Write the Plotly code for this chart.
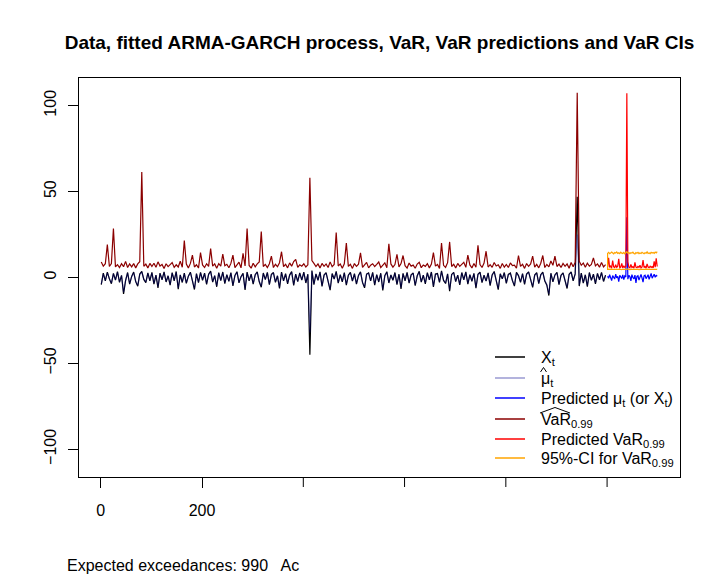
import plotly.graph_objects as go

# ---------------- data ----------------
# historical series, sampled every 4th time step starting at t = 1
X_t = [
    -4.2, 2.6, -2.0, 3.1, -0.8, -3.6, 2.4, -1.5, 3.4, -2.8, 1.2, -9.5, -1.8, 2.9, -3.9, 0.6, 3.2, -2.4, -5.1, 2.0, 3.6, -1.1, -3.0, 2.7, -1.9,
    3.0, -3.8, 1.4, -6.0, 2.5, -1.3, 3.3, -2.6, 1.0, -4.5, 2.8, -1.9, 3.5, -6.8, 1.5, -2.9, 2.6, -3.4, 0.8, 3.1, -2.2, -7.0, 2.3, -3.0, 3.0,
    -1.6, 2.5, -4.0, 1.9, 3.7, -2.7, 1.1, -5.4, 2.8, -1.8, 3.2, -3.6, 1.7, -2.3, 2.9, -4.9, 1.2, 3.4, -3.1, 0.5, 2.4, -7.2, 3.1, -1.9, 2.0,
    -3.8, 1.6, 3.3, -2.5, -5.7, 2.6, -1.2, 3.0, -4.2, 1.8, 2.9, -2.8, 1.0, -6.3, 3.1, -2.0, 2.2, -3.7, 1.4, 3.4, -4.6, 2.0, -2.4, 2.7, -1.5,
    3.1, -3.2, 1.9, -45.0, 4.0, -4.1, 2.1, -1.7, 3.3, -5.2, 1.4, 2.8, -2.7, -7.4, 2.3, -0.9, 3.6, -3.3, 1.6, -2.5, 2.9, -4.4, 1.3, 3.0, -2.1,
    2.2, -3.9, 1.2, 3.3, -3.0, -6.0, 2.0, 2.7, -2.0, 3.0, -4.4, 1.7, -2.6, 2.5, -7.5, 1.1, 3.4, -3.2, 1.5, -1.6, 2.9, -4.1, 1.9, -6.6, 2.4,
    -1.9, 3.0, -3.3, 1.6, 2.6, -4.8, 1.0, 3.6, -2.7, 1.4, -3.7, 2.8, -1.4, 3.2, -5.5, 2.0, 2.3, -2.9, 3.8, -1.7, -3.5, 2.1, -7.9, 1.8, 3.0,
    -2.4, 1.4, -4.3, 2.9, -1.3, 3.3, -3.8, 1.7, -2.2, 2.4, -6.2, 1.9, 3.1, -3.0, 1.3, -2.1, 2.7, -4.7, 1.5, 3.5, -2.6, -7.1, 2.2, -0.8, 2.9,
    -3.4, 1.8, 2.6, -1.8, -5.0, 3.0, 1.1, -2.8, 2.3, -4.0, 2.0, 3.3, -2.2, -5.8, 1.4, 2.8, -3.6, 1.6, 3.1, -2.0, -4.5, -10.5, 2.5, -2.5, 1.5,
    3.0, -4.2, 1.3, 2.7, -2.7, -6.4, 1.9, 3.2, -1.9, 2.1, 47.0, -5.0, 2.6, -3.3, 1.6, -5.3, 2.9, -1.7, 2.0, -3.7, 2.4, -1.3, 3.0, -2.3, 1.4,
]

mu_hat = [
    -3.8, 2.3, -1.8, 2.8, -0.7, -3.2, 2.2, -1.4, 3.1, -2.5, 1.1, -8.6, -1.6, 2.6, -3.5, 0.5, 2.9, -2.2, -4.6, 1.8, 3.2, -1.0, -2.7, 2.4, -1.7,
    2.7, -3.4, 1.3, -5.4, 2.2, -1.2, 3.0, -2.3, 0.9, -4.0, 2.5, -1.7, 3.1, -6.1, 1.4, -2.6, 2.3, -3.1, 0.7, 2.8, -2.0, -6.3, 2.1, -2.7, 2.7,
    -1.4, 2.2, -3.6, 1.7, 3.3, -2.4, 1.0, -4.9, 2.5, -1.6, 2.9, -3.2, 1.5, -2.1, 2.6, -4.4, 1.1, 3.1, -2.8, 0.4, 2.2, -6.5, 2.8, -1.7, 1.8,
    -3.4, 1.4, 3.0, -2.2, -5.1, 2.3, -1.1, 2.7, -3.8, 1.6, 2.6, -2.5, 0.9, -5.7, 2.8, -1.8, 2.0, -3.3, 1.3, 3.1, -4.1, 1.8, -2.2, 2.4, -1.4,
    2.8, -2.9, 1.7, -32.0, 3.6, -3.7, 1.9, -1.5, 3.0, -4.7, 1.3, 2.5, -2.4, -6.7, 2.1, -0.8, 3.2, -3.0, 1.4, -2.2, 2.6, -4.0, 1.2, 2.7, -1.9,
    2.0, -3.5, 1.1, 3.0, -2.7, -5.4, 1.8, 2.4, -1.8, 2.7, -4.0, 1.5, -2.3, 2.2, -6.8, 1.0, 3.1, -2.9, 1.4, -1.4, 2.6, -3.7, 1.7, -5.9, 2.2,
    -1.7, 2.7, -3.0, 1.4, 2.3, -4.3, 0.9, 3.2, -2.4, 1.3, -3.3, 2.5, -1.3, 2.9, -5.0, 1.8, 2.1, -2.6, 3.4, -1.5, -3.2, 1.9, -7.1, 1.6, 2.7,
    -2.2, 1.3, -3.9, 2.6, -1.2, 3.0, -3.4, 1.5, -2.0, 2.2, -5.6, 1.7, 2.8, -2.7, 1.2, -1.9, 2.4, -4.2, 1.4, 3.2, -2.3, -6.4, 2.0, -0.7, 2.6,
    -3.1, 1.6, 2.3, -1.6, -4.5, 2.7, 1.0, -2.5, 2.1, -3.6, 1.8, 3.0, -2.0, -5.2, 1.3, 2.5, -3.2, 1.4, 2.8, -1.8, -4.1, -9.5, 2.3, -2.3, 1.4,
    2.7, -3.8, 1.2, 2.4, -2.4, -5.8, 1.7, 2.9, -1.7, 1.9, 25.0, -4.5, 2.3, -3.0, 1.4, -4.8, 2.6, -1.5, 1.8, -3.3, 2.2, -1.2, 2.7, -2.1, 1.3,
]

VaR_hat = [
    9.0, 6.6, 8.0, 19.2, 6.4, 8.1, 28.5, 6.2, 7.5, 5.8, 8.0, 6.3, 9.4, 5.8, 7.9, 6.2, 8.1, 5.6, 7.9, 9.2, 61.4, 6.5, 7.8, 5.6, 8.2,
    6.4, 8.3, 5.9, 9.1, 6.7, 7.6, 5.2, 8.0, 6.3, 7.5, 8.7, 5.9, 7.4, 6.1, 9.5, 6.0, 21.5, 7.8, 5.6, 8.2, 13.0, 6.1, 7.4, 5.5, 14.5,
    7.3, 5.8, 8.0, 6.5, 16.9, 6.6, 7.9, 5.4, 8.1, 6.6, 13.6, 6.9, 7.7, 5.7, 8.2, 13.0, 5.8, 7.5, 8.9, 5.6, 14.0, 6.7, 28.5, 7.0, 5.4,
    8.3, 6.2, 7.9, 9.0, 26.7, 6.4, 7.6, 5.8, 8.0, 12.4, 5.8, 7.7, 6.3, 8.6, 15.0, 6.3, 7.7, 5.6, 8.5, 6.6, 9.3, 10.5, 5.9, 7.4, 6.6,
    8.0, 6.1, 7.4, 58.1, 9.8, 8.2, 6.4, 7.9, 5.6, 8.2, 6.5, 7.9, 5.8, 9.1, 6.3, 7.6, 26.2, 6.7, 7.9, 5.4, 8.0, 20.1, 6.5, 7.7, 5.3,
    8.1, 6.5, 7.8, 14.3, 5.9, 7.4, 8.8, 5.6, 7.2, 8.0, 6.4, 7.6, 9.0, 5.8, 7.3, 8.5, 5.7, 19.6, 7.9, 6.0, 7.5, 13.4, 6.2, 8.1, 12.8,
    6.9, 5.5, 8.4, 6.6, 7.2, 5.4, 7.8, 8.9, 5.7, 7.3, 6.5, 8.1, 5.6, 7.8, 14.5, 6.6, 7.6, 5.3, 20.1, 7.1, 5.9, 8.6, 20.7, 6.4, 7.7,
    5.6, 8.2, 6.5, 7.7, 8.8, 5.9, 13.0, 7.3, 5.6, 8.2, 6.0, 18.8, 7.5, 5.8, 8.4, 15.3, 6.1, 7.5, 5.9, 8.7, 6.7, 7.4, 5.3, 8.1, 6.0,
    7.6, 5.8, 8.5, 6.9, 7.2, 5.4, 12.8, 6.5, 7.7, 5.3, 8.1, 6.5, 7.9, 12.4, 6.0, 7.6, 5.6, 8.3, 12.8, 5.8, 7.6, 6.2, 9.6, 7.1, 12.4,
    6.4, 7.8, 5.8, 8.2, 6.5, 7.9, 5.4, 8.7, 6.3, 8.8, 107.5, 9.5, 7.1, 8.4, 5.9, 8.3, 6.6, 7.6, 11.4, 6.8, 7.9, 6.0, 8.7, 6.2, 7.5,
]

# predictions, sampled every 2nd time step starting at t = 1001
pred_mu = [
    0.8, -0.5, 1.6, 0.2, -1.8, 1.1, 0.4, -0.9, 1.9, -0.2, 0.7, -2.4, 1.3, 0.1, -0.6, 1.5, -1.2, 0.9, 0.3, 35.0,
    -1.0, 1.2, 0.5, -2.0, 1.7, 0.0, -0.8, 1.4, -3.1, 0.6, 1.0, -1.5, 0.4, 1.8, -0.3, -2.7, 0.9, 1.3, -0.7, 0.2,
    1.6, -1.1, 0.5, 2.4, -0.4, 0.8, 1.9, 0.1, 1.2, 0.7,
]
pred_VaR = [
    6.2, 11.5, 5.8, 6.9, 5.4, 9.8, 6.3, 5.6, 7.4, 5.9, 6.6, 10.9, 5.7, 6.1, 8.2, 5.5, 6.8, 5.9, 6.4, 107.2,
    9.1, 6.0, 5.6, 7.6, 5.8, 6.3, 5.5, 8.8, 6.0, 5.7, 6.5, 5.9, 7.1, 5.6, 6.2, 10.2, 5.8, 6.4, 5.5, 7.9,
    6.1, 5.7, 6.6, 5.9, 6.3, 5.6, 9.4, 6.0, 11.2, 6.4,
]
ci_upper = [
    14.0, 14.6, 13.9, 14.3, 14.8, 14.1, 13.8, 14.5, 14.2, 14.9, 14.0, 14.4, 13.9, 14.7, 14.2, 14.0, 14.6, 13.8, 14.3, 15.0,
    14.1, 14.5, 13.9, 14.4, 14.2, 14.8, 14.0, 13.7, 14.5, 14.1, 14.6, 13.9, 14.3, 14.0, 14.7, 14.2, 13.8, 14.4, 14.1, 14.9,
    14.0, 14.3, 13.9, 14.6, 14.2, 14.5, 14.0, 14.8, 14.3, 15.1,
]
ci_lower = [
    4.7, 4.8, 4.6, 4.7, 4.9, 4.7, 4.6, 4.8, 4.7, 4.8, 4.6, 4.7, 4.9, 4.7, 4.6, 4.8, 4.7, 4.6, 4.7, 5.0,
    4.8, 4.7, 4.6, 4.7, 4.8, 4.7, 4.6, 4.8, 4.7, 4.9, 4.7, 4.6, 4.8, 4.7, 4.7, 4.6, 4.8, 4.7, 4.9, 4.7,
    4.6, 4.7, 4.8, 4.7, 4.6, 4.8, 4.7, 4.7, 4.8, 4.7,
]

x_tick_vals = [0, 200, 400, 600, 800, 1000]
x_tick_labels = ["0", "200"]          # only these labels are visible in the reference
y_tick_vals = [-100, -50, 0, 50, 100]

legend_labels = [
    "X<sub>t</sub>",
    "μ<sub>t</sub>",
    "Predicted μ<sub>t</sub> (or X<sub>t</sub>)",
    "VaR<sub>0.99</sub>",
    "Predicted VaR<sub>0.99</sub>",
    "95%-CI for VaR<sub>0.99</sub>",
]

title_text = "Data, fitted ARMA-GARCH process, VaR, VaR predictions and VaR CIs"
footer_text = "Expected exceedances: 990   Ac"

# ---------------- styles ----------------
FONT = "Liberation Sans, Arial, Helvetica, sans-serif"
C_X = "black"
C_MU = "rgba(0,0,139,0.4)"
C_PMU = "blue"
C_VAR = "#8B0000"
C_PVAR = "red"
C_CI = "orange"
legend_colors = [C_X, C_MU, C_PMU, C_VAR, C_PVAR, C_CI]

# plot-area geometry in pixels (for placing legend/annotations)
L, R, T, B = 79, 680, 78, 477
W, H = R - L, B - T


def px(xpix):
    return (xpix - L) / W


def py(ypix):
    return (B - ypix) / H


# ---------------- time indices ----------------
t_hist = [1 + 4 * i for i in range(len(X_t))]
t_mu = [1 + 4 * i for i in range(len(mu_hat))]
t_var = [1 + 4 * i for i in range(len(VaR_hat))]
t_pred = [1001 + 2 * i for i in range(len(pred_mu))]
t_pvar = [1001 + 2 * i for i in range(len(pred_VaR))]
t_ci = [1001 + 2 * i for i in range(len(ci_upper))]

fig = go.Figure()
fig.add_trace(go.Scatter(x=t_hist, y=X_t, mode="lines", line=dict(color=C_X, width=1.2), showlegend=False))
fig.add_trace(go.Scatter(x=t_mu, y=mu_hat, mode="lines", line=dict(color=C_MU, width=1.2), showlegend=False))
fig.add_trace(go.Scatter(x=t_var, y=VaR_hat, mode="lines", line=dict(color=C_VAR, width=1.2), showlegend=False))
fig.add_trace(go.Scatter(x=t_pred, y=pred_mu, mode="lines", line=dict(color=C_PMU, width=1.2), showlegend=False))
fig.add_trace(go.Scatter(x=t_pvar, y=pred_VaR, mode="lines", line=dict(color=C_PVAR, width=1.2), showlegend=False))
fig.add_trace(go.Scatter(x=t_ci[::-1] + t_ci, y=ci_upper[::-1] + ci_lower, mode="lines",
                         line=dict(color=C_CI, width=1.2), showlegend=False))

shapes = []
annotations = []

# extra x ticks (unlabelled) below the plot box
for v in x_tick_vals[len(x_tick_labels):]:
    shapes.append(dict(type="line", xref="x", yref="paper", x0=v, x1=v, y0=0, y1=py(487),
                       line=dict(color="black", width=1)))

# manual legend (R-style, no box)
legend_line_y = [357, 378, 398, 419, 439, 458]
for lab, col, ly in zip(legend_labels, legend_colors, legend_line_y):
    shapes.append(dict(type="line", xref="paper", yref="paper", x0=px(495), x1=px(525),
                       y0=py(ly), y1=py(ly), line=dict(color=col, width=1.5)))
    annotations.append(dict(text=lab, x=px(539), y=py(ly + 1), xref="paper", yref="paper",
                            xanchor="left", yanchor="middle", showarrow=False,
                            font=dict(family=FONT, size=16, color="black")))
# small hat over mu and wide hat over VaR
shapes.append(dict(type="path", xref="paper", yref="paper",
                   path="M {:.5f} {:.5f} L {:.5f} {:.5f} L {:.5f} {:.5f}".format(
                       px(540.5), py(372), px(543.5), py(367.5), px(546.5), py(372)),
                   line=dict(color="black", width=1)))
shapes.append(dict(type="path", xref="paper", yref="paper",
                   path="M {:.5f} {:.5f} L {:.5f} {:.5f} L {:.5f} {:.5f}".format(
                       px(540), py(413), px(555), py(407.5), px(570), py(413)),
                   line=dict(color="black", width=1)))

annotations.append(dict(text=footer_text, x=px(65), y=py(565), xref="paper", yref="paper",
                        xanchor="left", yanchor="middle", showarrow=False,
                        font=dict(family=FONT, size=16, color="black")))

fig.update_layout(
    width=720, height=576,
    paper_bgcolor="white", plot_bgcolor="white",
    margin=dict(l=L, r=720 - R, t=T, b=576 - B),
    font=dict(family=FONT, size=16, color="black"),
    title=dict(text="<b>" + title_text + "</b>", x=0.5, xref="paper",
               y=1 - 42 / 576, yref="container", yanchor="middle",
               font=dict(family=FONT, size=19, color="black")),
    showlegend=False,
    xaxis=dict(range=[-43, 1144], tickvals=x_tick_vals[:len(x_tick_labels)], ticktext=x_tick_labels,
               ticks="outside", ticklen=10, tickcolor="black", tickwidth=1,
               showline=True, linecolor="black", linewidth=1, mirror=True,
               showgrid=False, zeroline=False, ticklabelstandoff=9,
               tickfont=dict(family=FONT, size=16, color="black")),
    yaxis=dict(range=[-116.1, 116.1], tickvals=y_tick_vals, tickangle=-90,
               ticks="outside", ticklen=10, tickcolor="black", tickwidth=1,
               showline=True, linecolor="black", linewidth=1, mirror=True,
               showgrid=False, zeroline=False, ticklabelstandoff=6,
               tickfont=dict(family=FONT, size=16, color="black")),
    shapes=shapes,
    annotations=annotations,
)

fig.write_html("out.html")
